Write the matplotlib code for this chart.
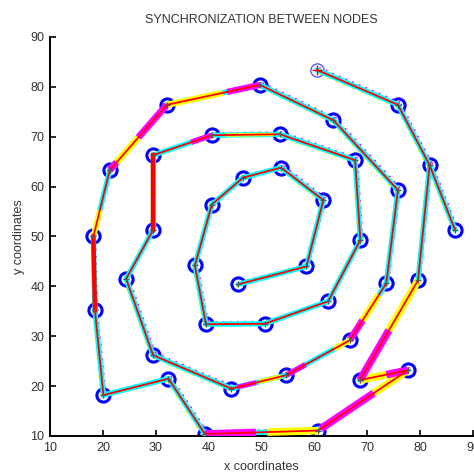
import matplotlib
matplotlib.use("Agg")
import matplotlib.pyplot as plt
import matplotlib.transforms as mtransforms
import numpy as np

plt.rcParams['font.family'] = ['Liberation Sans', 'DejaVu Sans']

# Node positions, listed in the order the chain visits them
node_x = [45.6, 58.5, 61.7, 53.7, 46.5, 40.6, 37.4, 39.5, 50.6, 62.6,
          68.7, 67.7, 53.5, 40.6, 29.5, 29.5, 24.4, 29.5, 44.3, 54.7,
          66.7, 73.6, 75.8, 63.6, 49.7, 32.1, 21.3, 18.2, 18.5, 20.1,
          32.4, 39.3, 60.7, 77.7, 68.6, 79.6, 81.8, 86.6, 75.8, 60.5]
node_y = [40.4, 44.0, 57.3, 63.8, 61.8, 56.4, 44.2, 32.4, 32.5, 37.0,
          49.3, 65.3, 70.5, 70.3, 66.3, 51.3, 41.5, 26.2, 19.5, 22.2,
          29.2, 40.6, 59.3, 73.3, 80.4, 76.4, 63.3, 50.0, 35.2, 18.2,
          21.5, 10.4, 11.1, 23.2, 21.2, 41.2, 64.3, 51.3, 76.4, 83.4]

# Links between nodes (index pairs)
link_from = list(range(0, 36)) + [36, 36, 38]
link_to = list(range(1, 37)) + [37, 38, 39]

# Synchronisation traffic drawn over links: (from, to, start, end, colour)
sync_from = [31, 31, 32, 32, 33, 33, 34, 34, 20, 20, 19, 19, 18, 18,
             25, 25, 26, 24, 24, 26, 13, 12]
sync_to = [32, 32, 33, 33, 34, 34, 35, 35, 21, 21, 20, 20, 19, 19,
           26, 26, 25, 25, 25, 27, 14, 13]
sync_start = [0.00, 0.55, 0.03, 0.62, 0.00, 0.45, 0.00, 0.50, 0.00, 0.35,
              0.00, 0.75, 0.10, 0.50, 0.00, 0.50, 0.00, 0.00, 0.40, 0.60,
              0.00, 0.10]
sync_end = [0.45, 1.00, 0.62, 1.00, 0.45, 1.00, 0.50, 1.00, 0.35, 0.80,
            0.30, 1.00, 0.45, 0.90, 0.50, 0.95, 0.12, 0.35, 1.00, 1.00,
            0.35, 0.80]
sync_colour = ['#ff00ff', '#ffff00', '#ff00ff', '#ffff00', '#ff00ff',
               '#ffff00', '#ff00ff', '#ffff00', '#ff00ff', '#ffff00',
               '#ff00ff', '#ffff00', '#ff00ff', '#ffff00', '#ff00ff',
               '#ffff00', '#ff00ff', '#ff00ff', '#ffff00', '#ffff00',
               '#ff00ff', '#ffff00']
sync_width = [5.5, 5.5, 5.5, 5.5, 5.5, 5.5, 5.5, 5.5, 5, 5,
              4, 4, 3.5, 3.5, 5, 5, 5, 4.5, 4.5, 4,
              4, 2.5]

# Links carrying a heavy direct transfer
heavy_from = [27, 14]
heavy_to = [28, 15]

x_ticks = [10, 20, 30, 40, 50, 60, 70, 80, 90]
y_ticks = [10, 20, 30, 40, 50, 60, 70, 80, 90]

fig = plt.figure(figsize=(4.74, 4.75), dpi=100)
ax = fig.add_axes([50 / 474, 39 / 475, 423 / 474, 399 / 475])

nx = np.array(node_x)
ny = np.array(node_y)

up = mtransforms.offset_copy(ax.transData, fig=fig, x=1.6, y=1.6, units='points')
down = mtransforms.offset_copy(ax.transData, fig=fig, x=-1.6, y=-1.6, units='points')

for a, b in zip(link_from, link_to):
    xs, ys = [nx[a], nx[b]], [ny[a], ny[b]]
    ax.plot(xs, ys, color='#ff00ff', lw=1.3, ls=(0, (1, 3)), transform=up, zorder=2)
    ax.plot(xs, ys, color='#ffff00', lw=1.3, ls=(0, (1, 4)), transform=down, zorder=2)
    ax.plot(xs, ys, color='#00ffff', lw=3.8, solid_capstyle='round', zorder=3)

for a, b, f0, f1, c, w in zip(sync_from, sync_to, sync_start, sync_end,
                              sync_colour, sync_width):
    x0 = nx[a] + (nx[b] - nx[a]) * f0
    x1 = nx[a] + (nx[b] - nx[a]) * f1
    y0 = ny[a] + (ny[b] - ny[a]) * f0
    y1 = ny[a] + (ny[b] - ny[a]) * f1
    ax.plot([x0, x1], [y0, y1], color=c, lw=w, solid_capstyle='butt', zorder=4)

for a, b in zip(link_from, link_to):
    ax.plot([nx[a], nx[b]], [ny[a], ny[b]], color='#ff0000', lw=1.3, zorder=5)

for a, b in zip(heavy_from, heavy_to):
    ax.plot([nx[a], nx[b]], [ny[a], ny[b]], color='#ff0000', lw=3.2, zorder=5)

# Nodes
ax.plot(nx[:-1], ny[:-1], 'o', ms=9.5, mfc='none', mec='#0000ff', mew=2.2, zorder=2.5)
ax.plot(nx[:-1], ny[:-1], '+', ms=4.5, color='#555555', mew=0.8, zorder=6)
ax.plot(nx[-1:], ny[-1:], 'o', ms=9.5, mfc='none', mec='#5a5aff', mew=1.0, zorder=2.5)
ax.plot(nx[-1:], ny[-1:], '+', ms=7, color='#ff0000', mew=1.0, zorder=6)

ax.set_xlim(10, 90)
ax.set_ylim(10, 90)
ax.set_xticks(x_ticks)
ax.set_yticks(y_ticks)
ax.spines['top'].set_visible(False)
ax.spines['right'].set_visible(False)
ax.spines['left'].set_linewidth(1.4)
ax.spines['bottom'].set_linewidth(1.4)
ax.tick_params(direction='in', length=4, width=1.2, labelsize=9,
               labelcolor='#333333', pad=4)
for lab in ax.get_xticklabels() + ax.get_yticklabels():
    lab.set_clip_on(False)

ax.set_title('SYNCHRONIZATION BETWEEN NODES', fontsize=9, color='#333333', pad=10)
ax.set_xlabel('x coordinates', fontsize=9, color='#333333', labelpad=5)
ax.set_ylabel('y coordinates', fontsize=9, color='#333333', labelpad=4)

fig.savefig('out.png', dpi=100)
